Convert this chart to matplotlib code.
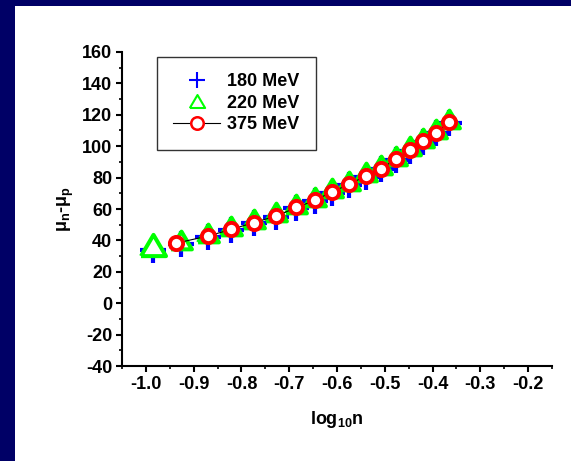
import matplotlib
matplotlib.use("Agg")
import matplotlib.pyplot as plt
from matplotlib.patches import Rectangle
from matplotlib.ticker import MultipleLocator, FormatStrFormatter

plt.rcParams['font.family'] = ['Liberation Sans', 'DejaVu Sans']
plt.rcParams['font.weight'] = 'bold'
plt.rcParams['axes.unicode_minus'] = False
plt.rcParams['mathtext.fontset'] = 'custom'
plt.rcParams['mathtext.rm'] = 'Liberation Sans:bold'
plt.rcParams['mathtext.it'] = 'Liberation Sans:bold'
plt.rcParams['mathtext.bf'] = 'Liberation Sans:bold'

# log10(n) positions and mu_n - mu_p for three temperatures
x_180 = [-0.986, -0.926, -0.870, -0.821, -0.774, -0.727, -0.685, -0.646, -0.611,
         -0.574, -0.540, -0.508, -0.477, -0.447, -0.419, -0.392, -0.366]
y_180 = [34.0, 37.7, 42.3, 46.6, 51.0, 55.0, 60.5, 65.0, 70.3,
         75.2, 80.5, 85.2, 91.2, 97.2, 102.7, 108.2, 115.0]

x_220 = [-0.986, -0.926, -0.870, -0.821, -0.774, -0.727, -0.685, -0.646, -0.611,
         -0.574, -0.540, -0.508, -0.477, -0.447, -0.419, -0.392, -0.366]
y_220 = [36.9, 40.4, 45.0, 49.3, 53.8, 58.0, 63.3, 67.8, 73.2,
         78.0, 83.4, 88.0, 94.0, 100.0, 105.5, 111.0, 117.2]

x_375 = [-0.937, -0.870, -0.821, -0.774, -0.727, -0.685, -0.646, -0.611,
         -0.574, -0.540, -0.508, -0.477, -0.447, -0.419, -0.392, -0.366]
y_375 = [38.2, 42.8, 47.0, 51.4, 55.5, 61.0, 65.5, 70.9,
         75.7, 81.1, 85.7, 91.7, 97.7, 103.2, 108.7, 115.1]

labels = ['180 MeV', '220 MeV', '375 MeV']

fig = plt.figure(figsize=(5.71, 4.61), dpi=100)
fig.patch.set_facecolor('#000066')
fig.add_artist(Rectangle((15 / 571, 0), 1 - 15 / 571, 455 / 461,
                         transform=fig.transFigure, facecolor='white',
                         edgecolor='none', zorder=-10))

ax = fig.add_axes([122 / 571, 95 / 461, 430 / 571, 314 / 461])
ax.set_facecolor('none')

# wide, flat open triangle like Origin's
tri = [(-1.0, -0.85), (1.0, -0.85), (0.0, 0.85), (-1.0, -0.85)]

ax.plot(x_180, y_180, linestyle='none', marker='+', ms=19, mew=3,
        color='#0000ff', zorder=2)
ax.plot(x_220[1:], y_220[1:], linestyle='none', marker=tri, ms=15, mew=2.9,
        mec='#00ff00', mfc='white', zorder=3)
ax.plot(x_220[:1], y_220[:1], linestyle='none', marker=tri, ms=18, mew=2.9,
        mec='#00ff00', mfc='white', zorder=3)
ax.plot(x_375, y_375, color='black', lw=0.8, marker='o', ms=9.5, mew=2.8,
        mec='#ff0000', mfc='white', zorder=4)

# legend handles sized separately from the data markers
h1, = ax.plot([], [], linestyle='none', marker='+', ms=12, mew=1.5, color='#0000ff')
h2, = ax.plot([], [], linestyle='none', marker=tri, ms=11, mew=1.5,
              mec='#00ff00', mfc='white')
h3, = ax.plot([], [], color='black', lw=0.8, marker='o', ms=9, mew=1.8,
              mec='#ff0000', mfc='white')
leg = ax.legend([h1, h2, h3], labels, loc='upper left',
                bbox_to_anchor=(0.081, 0.984), borderaxespad=0,
                frameon=True, fancybox=False, edgecolor='black',
                fontsize=13, handlelength=2.6, handletextpad=0.4,
                labelspacing=0.25, borderpad=0.9)
leg.get_frame().set_linewidth(1.0)
for t in leg.get_texts():
    t.set_fontweight('bold')

ax.set_xlim(-1.05, -0.15)
ax.set_ylim(-40, 160)
ax.xaxis.set_major_locator(MultipleLocator(0.1))
ax.xaxis.set_minor_locator(MultipleLocator(0.05))
ax.xaxis.set_major_formatter(FormatStrFormatter('%.1f'))
ax.yaxis.set_major_locator(MultipleLocator(20))
ax.yaxis.set_minor_locator(MultipleLocator(10))

for side in ['top', 'right']:
    ax.spines[side].set_visible(False)
for side in ['left', 'bottom']:
    ax.spines[side].set_linewidth(1.5)

ax.tick_params(which='major', direction='out', length=4.5, width=1.5,
               labelsize=13, pad=2.5)
ax.tick_params(which='minor', direction='out', length=2.5, width=1.2)
for lbl in ax.get_xticklabels() + ax.get_yticklabels():
    lbl.set_fontweight('bold')

ax.set_xlabel('log$_{10}$n', fontsize=13, fontweight='bold', labelpad=12)
ax.set_ylabel('μ$_n$-μ$_p$', fontsize=13, fontweight='bold', labelpad=4)

fig.savefig('out.png', dpi=100, facecolor=fig.get_facecolor())
